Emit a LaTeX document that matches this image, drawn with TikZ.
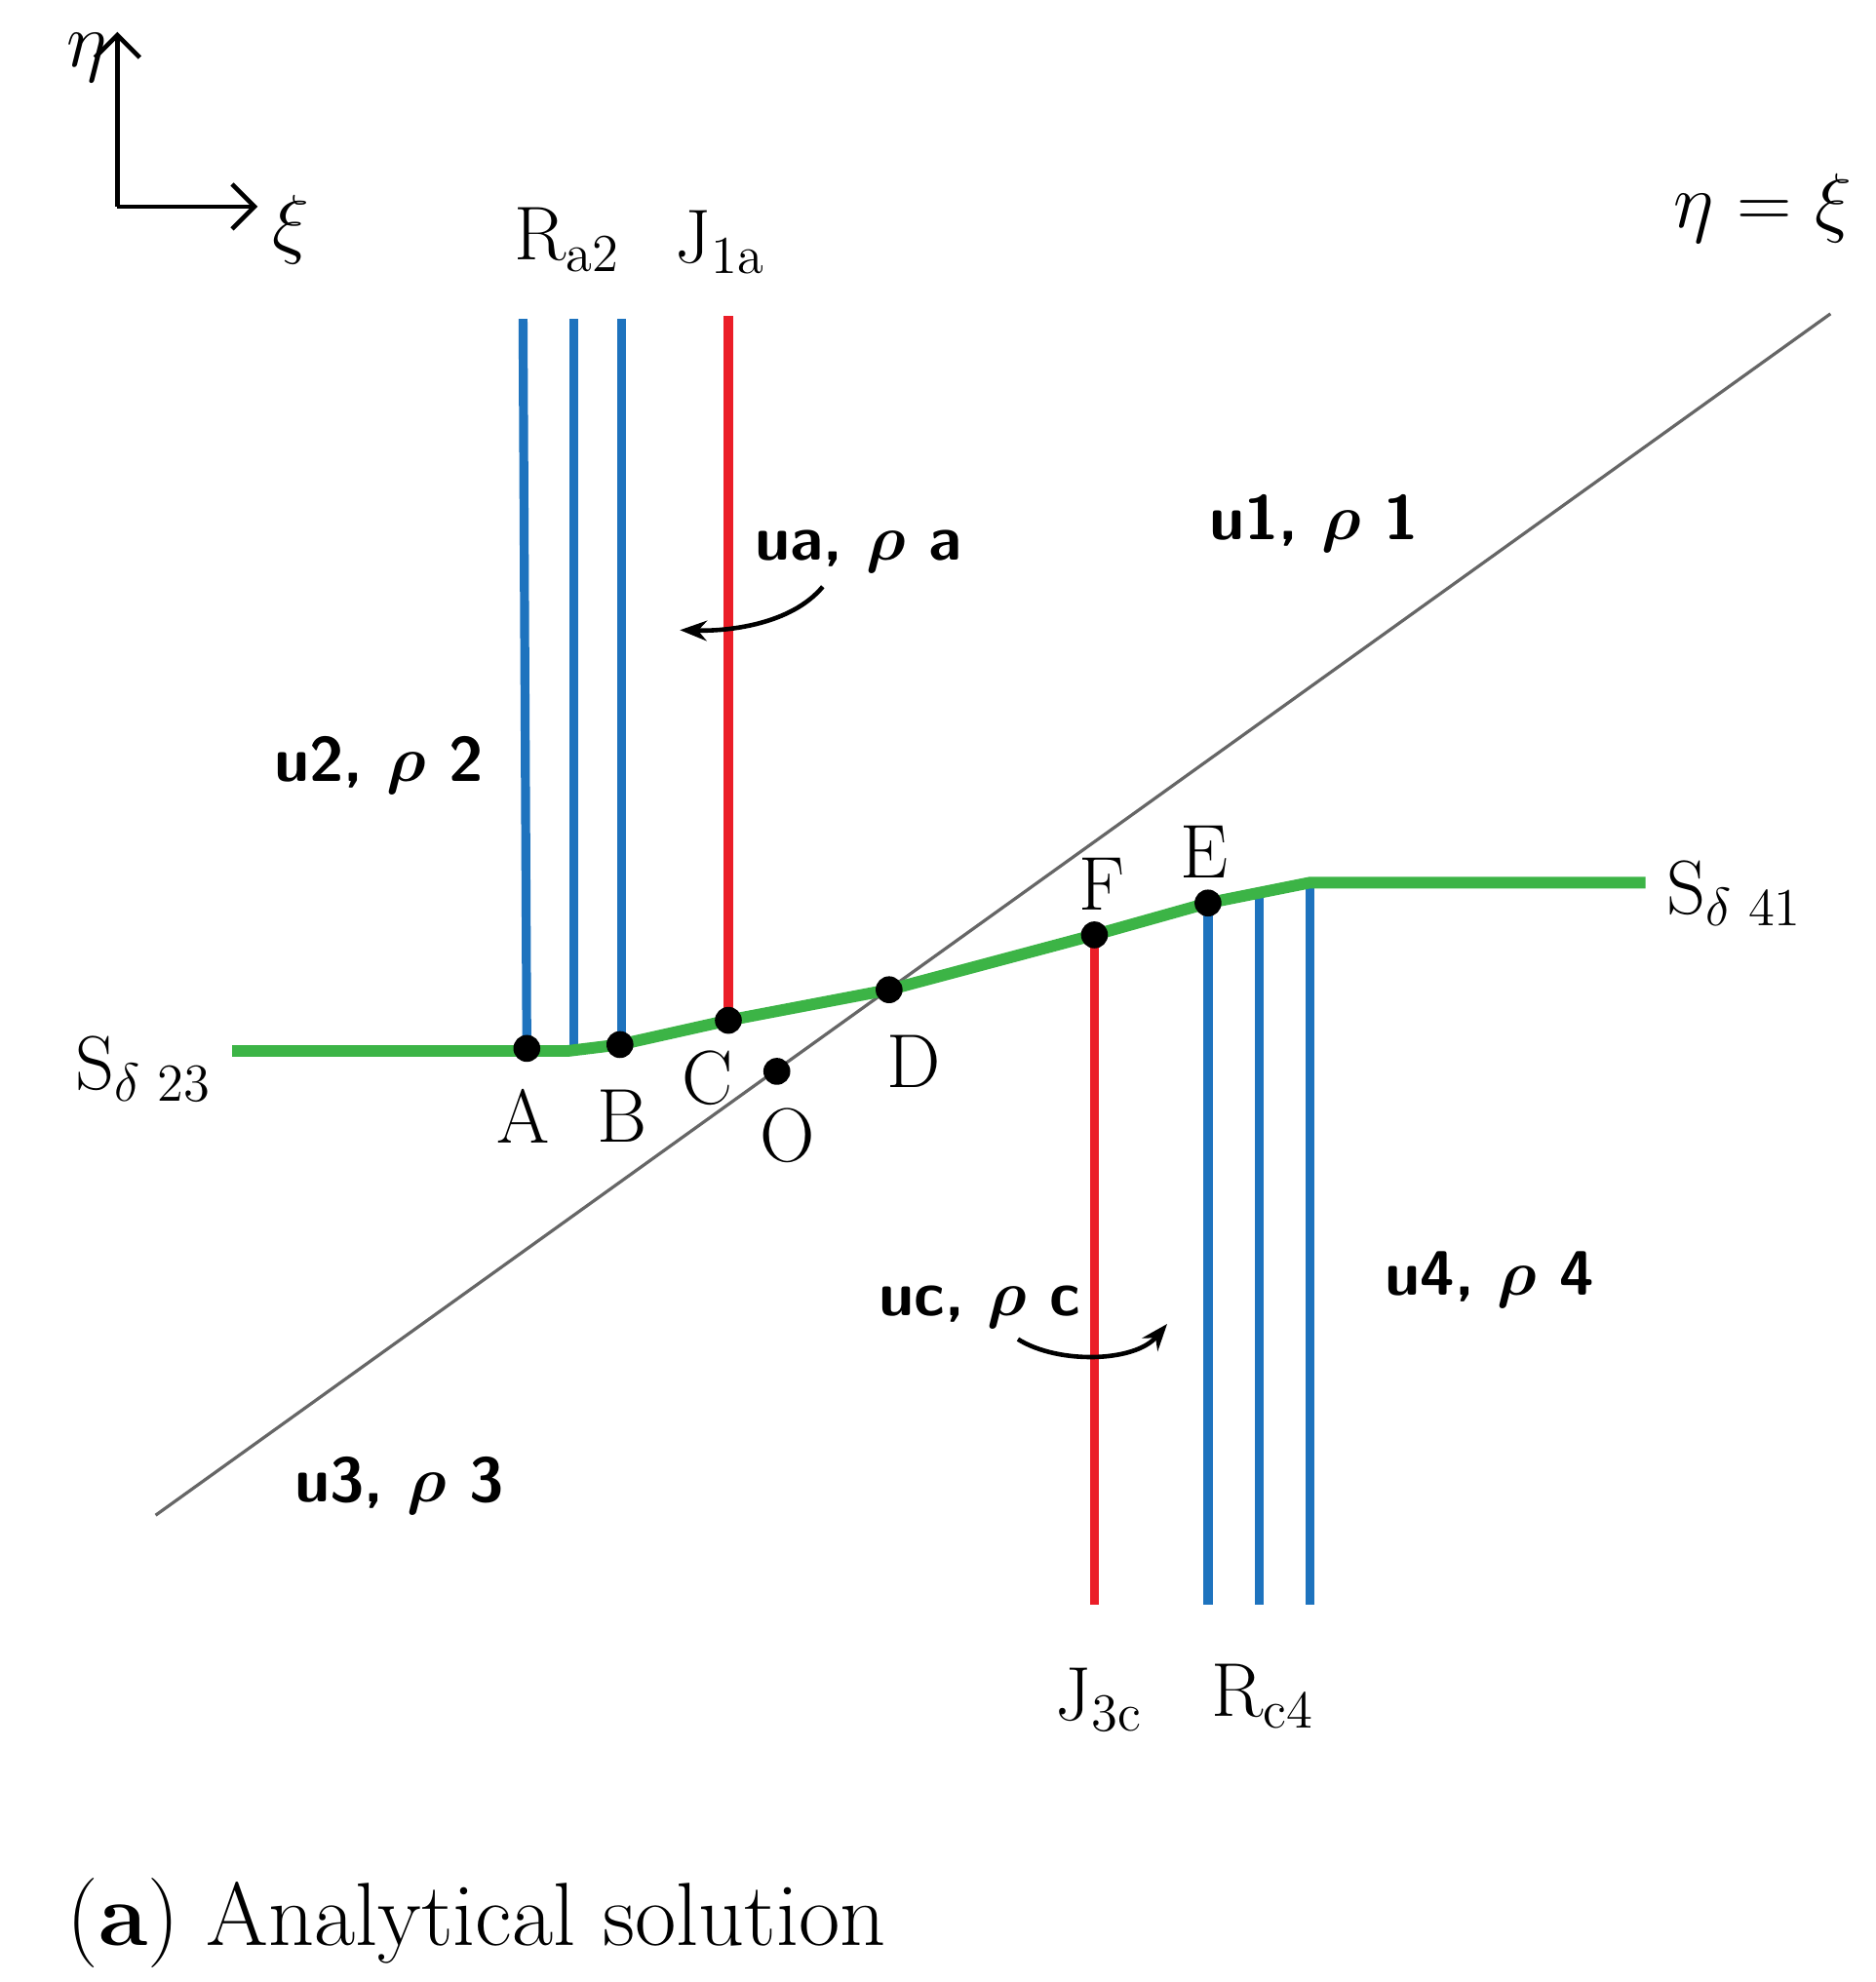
\documentclass[tikz,border=0pt]{standalone}
\usepackage{amsmath}
\usetikzlibrary{arrows.meta}
\tikzset{
  wave/.style={line width=2pt},
  blu/.style={wave,draw={rgb,255:red,30;green,115;blue,190}},
  rd/.style={wave,draw={rgb,255:red,235;green,30;blue,40}},
  contact/.style={line width=2.6pt,draw={rgb,255:red,60;green,180;blue,70}},
  pt/.style={circle,fill=black,inner sep=0pt,minimum size=6pt},
  lab/.style={font=\fontsize{17}{20}\selectfont},
  reg/.style={font=\fontsize{14}{17}\selectfont\bfseries\sffamily},
}
\begin{document}
\begin{tikzpicture}[x=0.01cm,y=-0.01cm]
\useasboundingbox (0,0) rectangle (1470,1554);

% axes
\coordinate (o) at (92,162);
\draw[line width=1pt,-{Straight Barb[length=5pt]}] (o) -- (92,25);
\draw[line width=1pt,-{Straight Barb[length=5pt]}] (o) -- (202,162);
\node[lab] (eta) at (68,45) {$\eta$};
\node[lab] (xi) at (228,180) {$\xi$};

% eta = xi
\draw[gray!80!black,line width=0.7pt] (122,1188) -- (1435,246);
\node[lab] (diag) at (1382,163) {$\eta$ = $\xi$};

% waves
\draw[blu] (410,250) -- (413,822);
\draw[blu] (450,250) -- (450,822);
\draw[blu] (487,250) -- (487,819);
\draw[rd] (571,248) -- (571,800);
\draw[rd] (858,733) -- (858,1258);
\foreach \x/\y in {947/708,987/700,1027/692}
  \draw[blu] (\x,\y) -- (\x,1258);

% contact line
\draw[contact] (182,824) -- (413,824) -- (445,824) -- (486,819) -- (571,800)
  -- (697,776) -- (858,733) -- (947,708) -- (1027,692) -- (1290,692);

% points
\node[pt] (A) at (413,822) {};
\node[pt] (B) at (486,819) {};
\node[pt] (C) at (571,800) {};
\node[pt] (O) at (609,840) {};
\node[pt] (D) at (697,776) {};
\node[pt] (F) at (858,733) {};
\node[pt] (E) at (947,708) {};
\node[lab] at (410,875) {A};
\node[lab] at (488,875) {B};
\node[lab] at (555,845) {C};
\node[lab] at (617,890) {O};
\node[lab] at (716,832) {D};
\node[lab] at (864,693) {F};
\node[lab] at (944,668) {E};

% wave labels
\node[lab] at (445,188) {R\textsubscript{a2}};
\node[lab] at (565,190) {J\textsubscript{1a}};
\node[lab] at (862,1333) {J\textsubscript{3c}};
\node[lab] at (990,1330) {R\textsubscript{c4}};
\node[lab] at (113,838) {S\textsubscript{$\delta$ 23}};
\node[lab] at (1360,700) {S\textsubscript{$\delta$ 41}};

% states
\node[reg] (s1) at (1030,410) {u1, $\boldsymbol{\rho}$ 1};
\node[reg] (sa) at (673,432) {ua, $\boldsymbol{\rho}$ a};
\node[reg] (s2) at (297,600) {u2, $\boldsymbol{\rho}$ 2};
\node[reg] (s3) at (313,1165) {u3, $\boldsymbol{\rho}$ 3};
\node[reg] (sc) at (768,1025) {uc, $\boldsymbol{\rho}$ c};
\node[reg] (s4) at (1168,1003) {u4, $\boldsymbol{\rho}$ 4};

\coordinate (ta) at (533,494);
\coordinate (tc) at (915,1038);
\draw[line width=1pt,-{Stealth[length=6pt]}] (645,460) .. controls (620,490) and (570,495) .. (ta);
\draw[line width=1pt,-{Stealth[length=6pt]}] (798,1050) .. controls (830,1070) and (890,1068) .. (tc);

% caption
\node[anchor=west,font=\fontsize{20}{24}\selectfont] at (40,1508) {(\textbf{a}) Analytical solution};
\end{tikzpicture}
\end{document}
